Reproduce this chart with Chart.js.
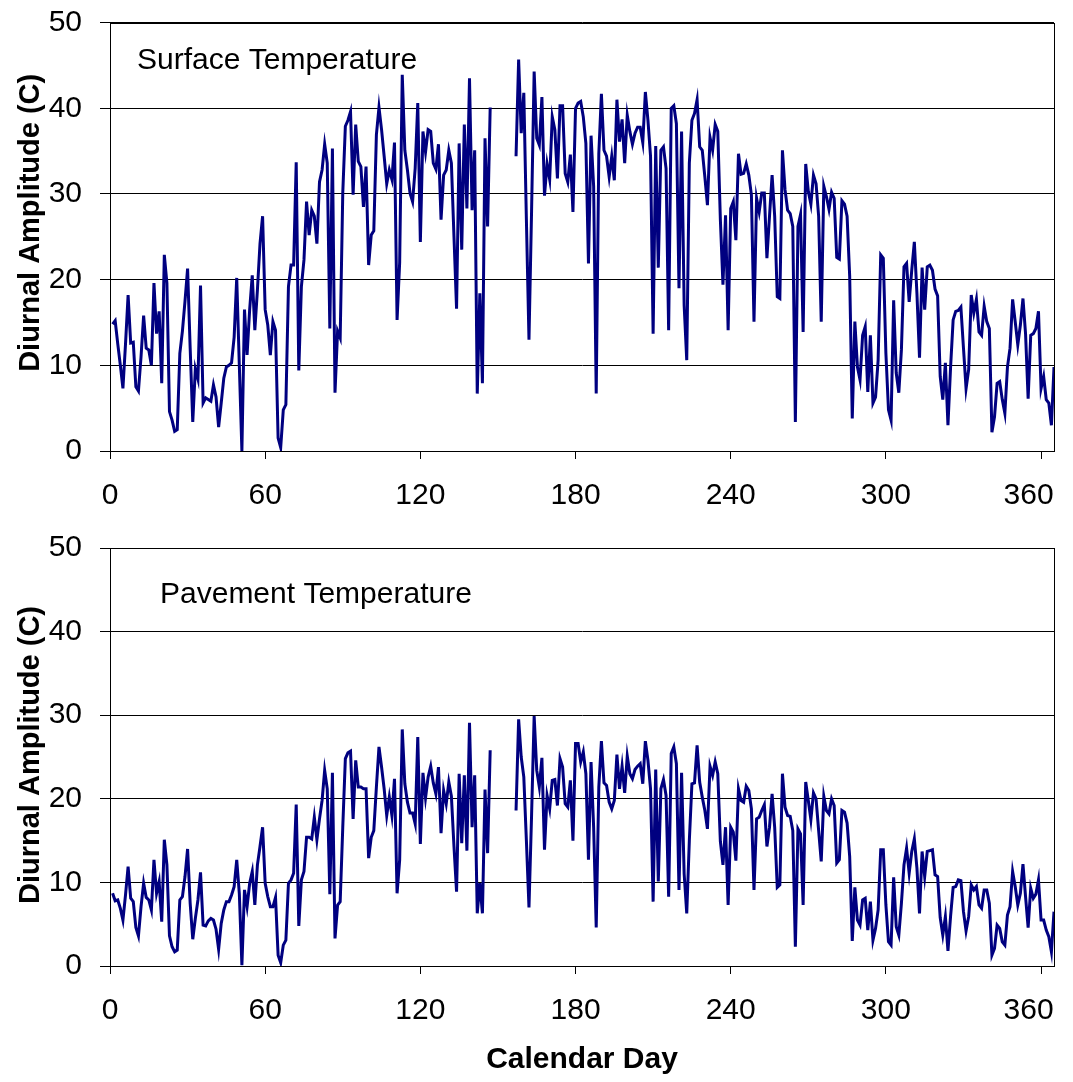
<!DOCTYPE html>
<html>
<head>
<meta charset="utf-8">
<title>Diurnal Amplitude</title>
<script src="https://cdn.jsdelivr.net/npm/chart.js@4.4.0/dist/chart.umd.min.js"></script>
<style>
  html, body { margin: 0; padding: 0; background: #fff; }
  #page { position: relative; width: 1073px; height: 1082px; }
  .panel { position: absolute; left: 0; }
</style>
</head>
<body>
<div id="page">
  <div class="panel" style="top:0"><canvas id="surface" width="1073" height="520"></canvas></div>
  <div class="panel" style="top:520px"><canvas id="pavement" width="1073" height="562"></canvas></div>
</div>
<script>
// calendar days 1..365, days 148-156 have no record
const days = Array.from({ length: 365 }, (_, i) => i + 1);
const xTicks = [0, 60, 120, 180, 240, 300, 360];
const yTicks = [0, 10, 20, 30, 40, 50];

const surfaceAmp = [
  14.8, 15.2, 12.5, 10.0, 7.3, 12.5, 18.2, 12.6, 12.7, 7.5, 7.0, 11.0, 15.8, 12.0, 11.8,
  10.0, 19.6, 13.7, 16.3, 7.9, 22.9, 19.6, 4.6, 3.6, 2.3, 2.5, 11.4, 14.0, 17.5, 21.3,
  12.0, 3.4, 9.6, 8.4, 19.3, 5.6, 6.2, 6.0, 5.8, 7.7, 6.3, 2.8, 5.6, 8.5, 9.8,
  10.0, 10.3, 13.3, 20.2, 10.0, 0.0, 16.5, 11.2, 16.5, 20.5, 14.1, 18.8, 24.2, 27.4, 16.5,
  14.7, 11.2, 15.1, 14.1, 1.5, 0.4, 4.8, 5.4, 19.2, 21.7, 21.7, 33.7, 9.4, 19.2, 22.3,
  29.1, 25.2, 28.1, 27.4, 24.2, 31.4, 32.8, 35.8, 33.6, 14.3, 35.3, 6.8, 14.0, 13.2, 30.1,
  37.9, 38.6, 39.6, 29.9, 38.1, 33.8, 33.2, 28.5, 33.2, 21.7, 25.2, 25.7, 36.9, 40.1, 37.5,
  34.4, 31.2, 32.8, 31.7, 36.0, 15.3, 22.0, 43.9, 35.1, 32.8, 30.1, 29.1, 33.0, 40.6, 24.4,
  37.3, 34.9, 37.5, 37.3, 33.6, 32.9, 35.8, 27.0, 32.2, 32.8, 35.1, 33.6, 25.0, 16.6, 35.9,
  23.5, 38.1, 28.3, 43.5, 28.1, 35.1, 6.7, 18.4, 7.9, 36.5, 26.2, 40.1,
  null, null, null, null, null, null, null, null, null,
  34.4, 45.7, 37.1, 41.8, 27.0, 13.0, 28.0, 44.3, 36.5, 35.7, 41.3, 29.8, 33.5, 31.7, 39.0,
  37.5, 31.8, 40.3, 40.3, 32.4, 31.4, 34.6, 27.9, 40.0, 40.6, 40.8, 39.0, 35.9, 21.9, 36.8,
  30.9, 6.7, 34.7, 41.7, 35.1, 34.4, 32.0, 34.4, 31.6, 41.0, 36.1, 38.7, 33.6, 39.2, 37.3,
  35.8, 37.1, 37.8, 37.8, 36.0, 41.9, 38.6, 34.4, 13.7, 35.6, 21.4, 35.1, 35.5, 33.0, 14.1,
  40.0, 40.3, 38.2, 19.0, 37.3, 17.0, 10.6, 33.6, 38.6, 39.4, 41.0, 35.5, 35.1, 32.0, 28.7,
  36.6, 35.1, 38.1, 37.3, 27.0, 19.4, 27.5, 14.1, 28.3, 29.1, 24.6, 34.7, 32.3, 32.4, 33.5,
  32.2, 29.9, 15.1, 29.5, 27.9, 30.1, 30.1, 22.5, 27.4, 32.2, 27.4, 18.0, 17.8, 35.1, 30.5,
  28.1, 27.7, 26.2, 3.4, 26.2, 27.6, 13.9, 33.5, 30.3, 28.8, 32.2, 31.2, 27.4, 15.1, 30.9,
  29.7, 28.2, 30.2, 29.5, 22.6, 22.4, 29.2, 28.8, 27.4, 20.4, 3.8, 15.1, 9.8, 8.3, 13.5,
  14.5, 6.9, 13.5, 5.6, 6.3, 10.6, 22.9, 22.5, 11.4, 4.8, 3.6, 17.6, 9.1, 6.8, 11.8,
  21.5, 21.9, 17.4, 21.1, 24.4, 18.4, 10.9, 21.4, 16.5, 21.5, 21.7, 21.1, 18.9, 18.1, 8.7,
  6.0, 10.3, 3.0, 9.7, 15.3, 16.3, 16.4, 16.8, 12.0, 7.3, 9.5, 18.2, 16.1, 17.7, 13.9,
  13.5, 16.9, 15.1, 14.3, 2.2, 4.0, 7.9, 8.1, 6.0, 4.4, 9.8, 12.0, 17.7, 15.1, 12.4,
  14.7, 17.8, 13.7, 6.1, 13.5, 13.7, 14.3, 16.3, 7.3, 8.7, 6.0, 5.6, 3.0, 9.8
];

const pavementAmp = [
  8.7, 7.8, 7.9, 6.9, 5.5, 8.5, 11.9, 8.1, 7.7, 4.6, 3.6, 7.1, 9.9, 8.2, 7.9,
  6.7, 12.7, 8.7, 10.1, 5.3, 15.1, 12.1, 3.6, 2.3, 1.7, 1.9, 7.9, 8.3, 10.7, 14.0,
  7.5, 3.2, 5.7, 7.9, 11.2, 4.9, 4.8, 5.4, 5.7, 5.5, 4.4, 2.0, 5.1, 6.7, 7.7,
  7.7, 8.5, 9.5, 12.7, 8.7, 0.1, 9.1, 7.1, 9.9, 11.3, 7.3, 12.1, 14.3, 16.6, 9.9,
  8.3, 7.1, 7.1, 8.2, 1.3, 0.4, 2.5, 3.1, 9.9, 10.3, 11.1, 19.3, 4.8, 10.3, 11.3,
  15.4, 15.4, 15.2, 17.8, 15.1, 17.6, 19.8, 23.4, 21.2, 8.6, 23.1, 3.3, 7.3, 7.7, 16.6,
  24.8, 25.5, 25.7, 17.6, 24.6, 21.4, 21.4, 21.2, 21.2, 12.9, 15.4, 16.2, 21.4, 26.2, 23.8,
  21.2, 18.0, 20.2, 18.0, 22.4, 8.7, 12.7, 28.3, 21.8, 19.6, 18.3, 18.3, 17.0, 27.4, 14.6,
  23.1, 20.1, 22.6, 23.9, 21.9, 20.6, 23.8, 15.9, 21.0, 19.4, 22.0, 20.3, 14.3, 8.9, 23.0,
  14.7, 22.8, 13.8, 29.1, 16.6, 22.8, 6.3, 9.9, 6.3, 21.1, 13.5, 25.8,
  null, null, null, null, null, null, null, null, null,
  18.6, 29.5, 25.0, 22.6, 15.0, 7.0, 18.0, 29.9, 23.4, 21.4, 24.9, 13.9, 20.4, 18.8, 22.2,
  22.3, 19.2, 24.8, 23.8, 19.4, 19.0, 22.2, 15.0, 26.6, 26.6, 24.4, 25.6, 23.0, 12.7, 24.4,
  16.6, 4.6, 21.4, 26.9, 21.9, 21.6, 19.6, 18.8, 19.8, 25.3, 21.2, 23.9, 20.7, 25.1, 23.0,
  22.4, 23.5, 23.9, 24.2, 21.8, 26.9, 24.6, 21.2, 7.7, 23.5, 10.1, 21.2, 22.3, 20.4, 8.3,
  25.4, 26.2, 24.2, 9.1, 23.1, 11.0, 6.3, 15.0, 21.8, 21.9, 26.4, 22.0, 20.2, 18.6, 16.4,
  23.9, 22.8, 24.4, 23.0, 14.9, 12.1, 16.6, 7.3, 16.6, 16.0, 12.6, 21.2, 19.8, 19.6, 21.5,
  21.0, 18.8, 9.1, 17.6, 17.8, 18.6, 19.3, 14.3, 16.6, 20.6, 16.6, 9.4, 9.7, 23.0, 19.0,
  18.0, 17.9, 16.2, 2.3, 16.4, 15.8, 7.3, 22.0, 19.8, 17.5, 20.7, 20.0, 16.2, 12.5, 20.3,
  18.6, 18.2, 20.0, 19.2, 12.3, 12.7, 18.6, 18.4, 17.1, 13.1, 3.0, 9.4, 5.5, 4.9, 7.9,
  8.1, 4.3, 7.7, 3.1, 4.5, 6.7, 13.9, 13.9, 7.3, 2.9, 2.5, 10.6, 4.7, 3.7, 7.5,
  12.1, 14.1, 11.1, 13.7, 15.2, 11.7, 6.3, 13.7, 10.7, 13.7, 13.8, 13.9, 10.9, 10.7, 5.8,
  3.7, 5.9, 1.8, 5.9, 9.4, 9.5, 10.3, 10.2, 6.5, 4.2, 5.9, 9.7, 9.1, 9.5, 7.3,
  6.9, 9.1, 9.1, 7.5, 1.3, 2.1, 4.9, 4.5, 2.9, 2.5, 6.1, 7.1, 11.3, 9.5, 7.3,
  8.7, 12.2, 8.3, 4.6, 9.3, 8.1, 8.6, 10.3, 5.5, 5.5, 4.3, 3.5, 1.7, 6.5
];

const FONT = '"Liberation Sans", Arial, sans-serif';

// box around the plot area, the panel caption inside it and the rotated axis title
const framePlugin = {
  id: 'frame',
  afterDraw(chart, args, opts) {
    const { ctx, chartArea: a } = chart;
    ctx.save();
    ctx.strokeStyle = '#000';
    ctx.lineWidth = 1;
    ctx.strokeRect(Math.round(a.left) + 0.5, Math.round(a.top) + 0.5,
      Math.round(a.right - a.left), Math.round(a.bottom - a.top));
    ctx.fillStyle = '#000';
    ctx.font = '30px ' + FONT;
    ctx.textBaseline = 'alphabetic';
    ctx.textAlign = 'left';
    ctx.fillText(opts.text, a.left + opts.dx, a.top + opts.dy);

    ctx.font = 'bold 29px ' + FONT;
    ctx.textAlign = 'center';
    ctx.textBaseline = 'middle';
    ctx.translate(31, (a.top + a.bottom) / 2 + opts.titleShift);
    ctx.rotate(-Math.PI / 2);
    ctx.fillText('Diurnal Amplitude (C)', 0, 0);
    ctx.restore();
  }
};

function makePanel(id, values, o) {
  const points = days.map((d, i) => ({ x: d, y: values[i] }));
  return new Chart(document.getElementById(id), {
    type: 'line',
    data: {
      datasets: [{
        data: points,
        borderColor: '#000080',
        borderWidth: 3,
        pointRadius: 0,
        tension: 0,
        spanGaps: false
      }]
    },
    plugins: [framePlugin],
    options: {
      responsive: false,
      animation: false,
      devicePixelRatio: 1,
      layout: { padding: { top: o.padTop, right: 19, left: 0, bottom: 0 } },
      plugins: {
        legend: { display: false },
        tooltip: { enabled: false },
        frame: { text: o.caption, dx: o.capX, dy: o.capY, titleShift: o.titleShift }
      },
      scales: {
        x: {
          type: 'linear',
          min: 0,
          max: 365,
          afterBuildTicks: s => { s.ticks = xTicks.map(v => ({ value: v })); },
          afterFit: s => {
            s.height = o.xHeight;
            s.paddingLeft = 0;
            s.paddingRight = 0;
          },
          grid: { drawOnChartArea: false, drawTicks: true, tickLength: 8, color: '#000' },
          border: { display: true, color: '#000', width: 1 },
          ticks: {
            font: { family: FONT, size: 30 },
            color: '#000',
            padding: 19,
            maxRotation: 0,
            // last label is kept inside the frame, so nudge it left
            callback: v => (v === 360 ? '360   ' : String(v))
          },
          title: {
            display: o.xTitle,
            text: 'Calendar Day',
            font: { family: FONT, size: 30, weight: 'bold' },
            color: '#000',
            padding: { top: 0, bottom: 4 }
          }
        },
        y: {
          min: 0,
          max: 50,
          afterBuildTicks: s => { s.ticks = yTicks.map(v => ({ value: v })); },
          afterFit: s => {
            s.width = 110;
            s.paddingTop = 0;
            s.paddingBottom = 0;
          },
          grid: { color: '#000', lineWidth: 1, tickLength: 10 },
          border: { display: true, color: '#000', width: 1 },
          ticks: { font: { family: FONT, size: 30 }, color: '#000', padding: 18 }
        }
      }
    }
  });
}

makePanel('surface', surfaceAmp, {
  padTop: 22.6, xHeight: 69, xTitle: false,
  caption: 'Surface Temperature', capX: 27, capY: 46, titleShift: -14
});
makePanel('pavement', pavementAmp, {
  padTop: 28, xHeight: 116, xTitle: true,
  caption: 'Pavement Temperature', capX: 50, capY: 55, titleShift: -2
});
</script>
</body>
</html>
